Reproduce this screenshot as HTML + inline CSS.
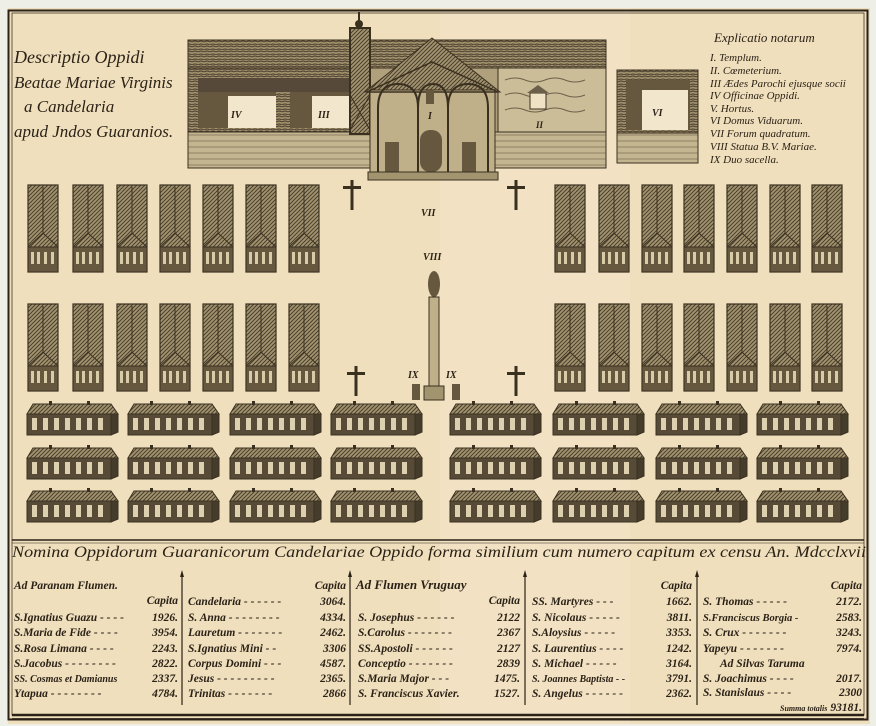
<!DOCTYPE html>
<html><head><meta charset="utf-8"><style>
html,body{margin:0;padding:0;background:#eef0e8;}
svg{display:block}
text{font-family:"Liberation Serif",serif;font-style:italic;fill:#2b2217}
</style></head><body>
<svg width="876" height="726" viewBox="0 0 876 726" xmlns="http://www.w3.org/2000/svg">
<defs>
<pattern id="h" width="4" height="4" patternUnits="userSpaceOnUse">
<rect width="4" height="4" fill="#a39470"/>
<path d="M0 4L4 0M-1 1L1 -1M3 5L5 3" stroke="#4a3f2c" stroke-width="1"/>
</pattern>
<pattern id="g" width="6" height="5" patternUnits="userSpaceOnUse">
<rect width="6" height="5" fill="#9f8f6b"/>
<path d="M0 2Q3 0 6 2M0 5Q3 3 6 5" stroke="#45392a" stroke-width="0.9" fill="none"/>
</pattern>
<pattern id="w" width="8" height="6" patternUnits="userSpaceOnUse">
<rect width="8" height="6" fill="#c4b591"/>
<path d="M0 3h8" stroke="#6d5f45" stroke-width="0.6"/>
</pattern>
<g id="blk">
<rect x="0" y="0" width="30" height="87" fill="url(#h)" stroke="#3a3020" stroke-width="1.2"/>
<path d="M15 2V48M0 62L15 48L30 62" stroke="#3a3020" stroke-width="1" fill="none"/>
<rect x="0" y="62" width="30" height="25" fill="#65583f" stroke="#3a3020"/>
<g fill="#d8cba8"><rect x="3" y="67" width="3" height="12"/><rect x="9" y="67" width="3" height="12"/><rect x="16" y="67" width="3" height="12"/><rect x="23" y="67" width="3" height="12"/></g>
</g>
<g id="lh">
<polygon points="0,13 6,3 84,3 91,13" fill="url(#h)" stroke="#3a3020"/>
<rect x="0" y="13" width="84" height="21" fill="#574b37" stroke="#3a3020"/>
<polygon points="84,13 91,13 91,31 84,34" fill="#463c2c" stroke="#3a3020"/>
<g fill="#ddd0ae"><rect x="5" y="17" width="5" height="12"/><rect x="16" y="17" width="5" height="12"/><rect x="27" y="17" width="5" height="12"/><rect x="38" y="17" width="5" height="12"/><rect x="49" y="17" width="5" height="12"/><rect x="60" y="17" width="5" height="12"/><rect x="71" y="17" width="5" height="12"/></g>
<rect x="22" y="0" width="3" height="4" fill="#3a3020"/><rect x="60" y="0" width="3" height="4" fill="#3a3020"/>
</g>
<g id="cr"><rect x="-1.5" y="0" width="3" height="30" fill="#3a3020"/><rect x="-9" y="6" width="18" height="3" fill="#3a3020"/></g>
</defs>
<rect x="0" y="0" width="876" height="726" fill="#eef0e8"/>
<rect x="8" y="8" width="862" height="716" fill="#efdfbd"/>
<rect x="440" y="8" width="190" height="716" fill="#f3e5c6" opacity="0.6"/>
<rect x="8.5" y="10.5" width="859" height="709" fill="none" stroke="#2b2217" stroke-width="2"/>
<rect x="12" y="13" width="852" height="702" fill="none" stroke="#2b2217" stroke-width="0.7"/>

<text x="14" y="63" font-size="18">Descriptio Oppidi</text>
<text x="14" y="88" font-size="17">Beatae Mariae Virginis</text>
<text x="24" y="112" font-size="17">a Candelaria</text>
<text x="14" y="137" font-size="17">apud Jndos Guaranios.</text>

<rect x="188" y="40" width="418" height="128" fill="#b0a07c" stroke="#3a3020"/>
<rect x="188" y="40" width="418" height="28" fill="url(#g)" stroke="#3a3020"/>
<rect x="188" y="68" width="180" height="64" fill="url(#g)" stroke="#3a3020"/>
<rect x="198" y="78" width="78" height="50" fill="#65583f"/>
<rect x="228" y="96" width="48" height="32" fill="#f2e7cc"/>
<rect x="290" y="78" width="62" height="50" fill="#65583f"/>
<rect x="312" y="96" width="40" height="32" fill="#f2e7cc"/>
<rect x="198" y="78" width="154" height="14" fill="#56493a"/>
<text x="231" y="118" font-size="10" font-style="normal" font-weight="bold">IV</text>
<text x="318" y="118" font-size="10" font-style="normal" font-weight="bold">III</text>
<rect x="498" y="68" width="108" height="64" fill="#cbbd98" stroke="#3a3020"/>
<path d="M505 80q10-4 20 0t20 0t20 0t20 0M505 95q10-4 20 0t20 0t20 0t20 0M505 110q10-4 20 0t20 0t20 0t20 0" stroke="#6d604a" fill="none"/>
<rect x="530" y="93" width="16" height="16" fill="#f0e3c5" stroke="#3a3020"/><polygon points="527,93 538,85 549,93" fill="#6d604a"/>
<text x="536" y="128" font-size="9" font-style="normal" font-weight="bold">II</text>
<rect x="188" y="132" width="418" height="36" fill="url(#w)" stroke="#3a3020"/>
<rect x="350" y="28" width="20" height="106" fill="url(#h)" stroke="#3a3020" stroke-width="2"/>
<path d="M350 95L370 130M370 95L350 130" stroke="#3a3020"/>
<circle cx="359" cy="24" r="4" fill="#3a3020"/><rect x="358" y="12" width="2" height="10" fill="#3a3020"/>
<polygon points="365,92 432,38 500,92" fill="url(#h)" stroke="#3a3020"/>
<rect x="370" y="90" width="125" height="82" fill="#c0b08a" stroke="#3a3020"/>
<polygon points="367,92 432,62 498,92" fill="none" stroke="#3a3020" stroke-width="1.5"/>
<g fill="none" stroke="#3a3020" stroke-width="2"><path d="M378 172V108q0-24 20-24t20 24V172"/><path d="M418 108q0-24 15-24t15 24V172"/><path d="M448 108q0-24 20-24t20 24V172"/></g>
<rect x="420" y="130" width="22" height="42" rx="10" fill="#65583f"/>
<rect x="385" y="142" width="14" height="30" fill="#65583f"/><rect x="462" y="142" width="14" height="30" fill="#65583f"/>
<rect x="426" y="90" width="8" height="14" fill="#65583f"/>
<text x="428" y="119" font-size="10" font-style="normal" font-weight="bold">I</text>
<rect x="368" y="172" width="130" height="8" fill="#a39470" stroke="#3a3020"/>
<rect x="617" y="70" width="81" height="93" fill="url(#g)" stroke="#3a3020"/>
<rect x="626" y="80" width="64" height="50" fill="#65583f"/>
<rect x="642" y="90" width="46" height="40" fill="#f2e7cc"/>
<rect x="617" y="133" width="81" height="30" fill="url(#w)" stroke="#3a3020"/>
<text x="652" y="116" font-size="10" font-style="normal" font-weight="bold">VI</text>

<text x="714" y="42" font-size="13">Explicatio   notarum</text>
<g font-size="11">
<text x="710" y="61">I. Templum.</text>
<text x="710" y="74">II. Cœmeterium.</text>
<text x="710" y="87">III Ædes Parochi ejusque socii</text>
<text x="710" y="99">IV Officinae Oppidi.</text>
<text x="710" y="112">V. Hortus.</text>
<text x="710" y="124">VI Domus Viduarum.</text>
<text x="710" y="137">VII Forum quadratum.</text>
<text x="710" y="150">VIII Statua B.V. Mariae.</text>
<text x="710" y="163">IX Duo sacella.</text>
</g>

<use href="#cr" x="352" y="180"/><use href="#cr" x="516" y="180"/>
<use href="#cr" x="356" y="366"/><use href="#cr" x="516" y="366"/>
<g font-size="10" font-style="normal" font-weight="bold">
<text x="421" y="216">VII</text><text x="423" y="260">VIII</text>
<text x="408" y="378">IX</text><text x="446" y="378">IX</text>
</g>
<ellipse cx="434" cy="284" rx="6" ry="13" fill="#65583f"/>
<rect x="429" y="297" width="10" height="90" fill="#c0b08a" stroke="#3a3020"/>
<rect x="424" y="386" width="20" height="14" fill="#a39470" stroke="#3a3020"/>
<rect x="412" y="384" width="8" height="16" fill="#65583f"/><rect x="452" y="384" width="8" height="16" fill="#65583f"/>

<g>
<use href="#blk" x="28" y="185"/><use href="#blk" x="73" y="185"/><use href="#blk" x="117" y="185"/><use href="#blk" x="160" y="185"/><use href="#blk" x="203" y="185"/><use href="#blk" x="246" y="185"/><use href="#blk" x="289" y="185"/>
<use href="#blk" x="555" y="185"/><use href="#blk" x="599" y="185"/><use href="#blk" x="642" y="185"/><use href="#blk" x="684" y="185"/><use href="#blk" x="727" y="185"/><use href="#blk" x="770" y="185"/><use href="#blk" x="812" y="185"/>
<use href="#blk" x="28" y="304"/><use href="#blk" x="73" y="304"/><use href="#blk" x="117" y="304"/><use href="#blk" x="160" y="304"/><use href="#blk" x="203" y="304"/><use href="#blk" x="246" y="304"/><use href="#blk" x="289" y="304"/>
<use href="#blk" x="555" y="304"/><use href="#blk" x="599" y="304"/><use href="#blk" x="642" y="304"/><use href="#blk" x="684" y="304"/><use href="#blk" x="727" y="304"/><use href="#blk" x="770" y="304"/><use href="#blk" x="812" y="304"/>
</g>
<g>
<use href="#lh" x="27" y="401"/><use href="#lh" x="128" y="401"/><use href="#lh" x="230" y="401"/><use href="#lh" x="331" y="401"/><use href="#lh" x="450" y="401"/><use href="#lh" x="553" y="401"/><use href="#lh" x="656" y="401"/><use href="#lh" x="757" y="401"/>
<use href="#lh" x="27" y="445"/><use href="#lh" x="128" y="445"/><use href="#lh" x="230" y="445"/><use href="#lh" x="331" y="445"/><use href="#lh" x="450" y="445"/><use href="#lh" x="553" y="445"/><use href="#lh" x="656" y="445"/><use href="#lh" x="757" y="445"/>
<use href="#lh" x="27" y="488"/><use href="#lh" x="128" y="488"/><use href="#lh" x="230" y="488"/><use href="#lh" x="331" y="488"/><use href="#lh" x="450" y="488"/><use href="#lh" x="553" y="488"/><use href="#lh" x="656" y="488"/><use href="#lh" x="757" y="488"/>
</g>

<path d="M12 540H864" stroke="#2b2217" stroke-width="1.5"/><path d="M12 543H864" stroke="#2b2217" stroke-width="0.6"/>
<text x="12" y="557" font-size="15.5" textLength="854" lengthAdjust="spacingAndGlyphs">Nomina Oppidorum Guaranicorum Candelariae Oppido forma similium cum numero capitum ex censu An. Mdcclxvii</text>
<g stroke="#2b2217" stroke-width="1.2">
<path d="M182 574V705M350 574V705M525 574V705M697 574V705"/>
</g>
<g fill="#2b2217"><polygon points="182,570 180,577 184,577"/><polygon points="350,570 348,577 352,577"/><polygon points="525,570 523,577 527,577"/><polygon points="697,570 695,577 699,577"/></g>
<g stroke="#2b2217"><path d="M12 715H864" stroke-width="2.5"/><path d="M12 718.5H864" stroke-width="0.7"/></g>
<g font-size="11.5" font-weight="bold">
<text x="14" y="589">Ad Paranam Flumen.</text>
<text x="178" y="604" text-anchor="end">Capita</text>
<text x="14" y="621">S.Ignatius Guazu - - - -</text><text x="178" y="621" text-anchor="end">1926.</text>
<text x="14" y="636">S.Maria de Fide - - - -</text><text x="178" y="636" text-anchor="end">3954.</text>
<text x="14" y="652">S.Rosa  Limana - - - -</text><text x="178" y="652" text-anchor="end">2243.</text>
<text x="14" y="667">S.Jacobus - - - - - - - -</text><text x="178" y="667" text-anchor="end">2822.</text>
<text x="14" y="682" font-size="10">SS. Cosmas et Damianus</text><text x="178" y="682" text-anchor="end">2337.</text>
<text x="14" y="697">Ytapua - - - - - - - -</text><text x="178" y="697" text-anchor="end">4784.</text>

<text x="346" y="589" text-anchor="end">Capita</text>
<text x="188" y="605">Candelaria - - - - - -</text><text x="346" y="605" text-anchor="end">3064.</text>
<text x="188" y="621">S. Anna - - - - - - - -</text><text x="346" y="621" text-anchor="end">4334.</text>
<text x="188" y="636">Lauretum - - - - - - -</text><text x="346" y="636" text-anchor="end">2462.</text>
<text x="188" y="652">S.Ignatius  Mini - -</text><text x="346" y="652" text-anchor="end">3306</text>
<text x="188" y="667">Corpus Domini - - -</text><text x="346" y="667" text-anchor="end">4587.</text>
<text x="188" y="682">Jesus - - - - - - - - -</text><text x="346" y="682" text-anchor="end">2365.</text>
<text x="188" y="697">Trinitas - - - - - - -</text><text x="346" y="697" text-anchor="end">2866</text>

<text x="356" y="589" font-size="13">Ad Flumen Vruguay</text>
<text x="520" y="604" text-anchor="end">Capita</text>
<text x="358" y="621">S. Josephus - - - - - -</text><text x="520" y="621" text-anchor="end">2122</text>
<text x="358" y="636">S.Carolus - - - - - - -</text><text x="520" y="636" text-anchor="end">2367</text>
<text x="358" y="652">SS.Apostoli - - - - - -</text><text x="520" y="652" text-anchor="end">2127</text>
<text x="358" y="667">Conceptio - - - - - - -</text><text x="520" y="667" text-anchor="end">2839</text>
<text x="358" y="682">S.Maria Major - - -</text><text x="520" y="682" text-anchor="end">1475.</text>
<text x="358" y="697">S. Franciscus Xavier.</text><text x="520" y="697" text-anchor="end">1527.</text>

<text x="692" y="589" text-anchor="end">Capita</text>
<text x="532" y="605">SS. Martyres - - -</text><text x="692" y="605" text-anchor="end">1662.</text>
<text x="532" y="621">S. Nicolaus - - - - -</text><text x="692" y="621" text-anchor="end">3811.</text>
<text x="532" y="636">S.Aloysius - - - - -</text><text x="692" y="636" text-anchor="end">3353.</text>
<text x="532" y="652">S. Laurentius - - - -</text><text x="692" y="652" text-anchor="end">1242.</text>
<text x="532" y="667">S. Michael - - - - -</text><text x="692" y="667" text-anchor="end">3164.</text>
<text x="532" y="682" font-size="10">S. Joannes Baptista - -</text><text x="692" y="682" text-anchor="end">3791.</text>
<text x="532" y="697">S. Angelus - - - - - -</text><text x="692" y="697" text-anchor="end">2362.</text>

<text x="862" y="589" text-anchor="end">Capita</text>
<text x="703" y="605">S. Thomas - - - - -</text><text x="862" y="605" text-anchor="end">2172.</text>
<text x="703" y="621" font-size="10.5">S.Franciscus Borgia -</text><text x="862" y="621" text-anchor="end">2583.</text>
<text x="703" y="636">S. Crux - - - - - - -</text><text x="862" y="636" text-anchor="end">3243.</text>
<text x="703" y="652">Yapeyu - - - - - - -</text><text x="862" y="652" text-anchor="end">7974.</text>
<text x="720" y="667">Ad Silvas Taruma</text>
<text x="703" y="682">S. Joachimus - - - -</text><text x="862" y="682" text-anchor="end">2017.</text>
<text x="703" y="696">S. Stanislaus - - - -</text><text x="862" y="696" text-anchor="end">2300</text>
<text x="780" y="711" font-size="8">Summa totalis</text><text x="862" y="711" text-anchor="end">93181.</text>
</g>
</svg>
</body></html>
